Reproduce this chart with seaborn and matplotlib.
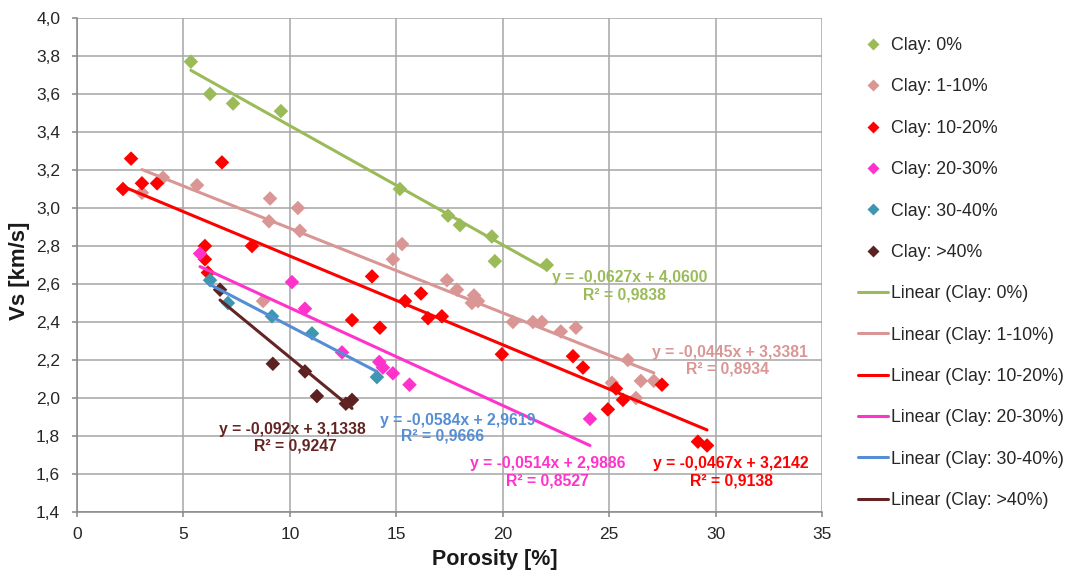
import numpy as np
import pandas as pd
import matplotlib
matplotlib.use("Agg")
import matplotlib.pyplot as plt
from matplotlib.ticker import FuncFormatter, MultipleLocator
from matplotlib.lines import Line2D
import seaborn as sns

# --- measurements: porosity [%] and shear-wave velocity Vs [km/s] per clay class ---
clay_0_por = [5.35, 6.25, 7.33, 9.58, 15.17, 17.43, 17.99, 19.49, 19.63, 22.07]
clay_0_vs = [3.77, 3.60, 3.55, 3.51, 3.10, 2.96, 2.91, 2.85, 2.72, 2.70]

clay_1_10_por = [3.05, 4.04, 5.64, 8.74, 9.07, 9.02, 10.38, 10.47, 14.84, 15.27, 17.38,
                 17.85, 18.65, 18.55, 18.84, 20.48, 21.42, 21.84, 22.73, 23.44, 25.13,
                 25.88, 26.26, 26.49, 27.10]
clay_1_10_vs = [3.08, 3.16, 3.12, 2.51, 3.05, 2.93, 3.00, 2.88, 2.73, 2.81, 2.62,
                2.57, 2.54, 2.50, 2.51, 2.40, 2.40, 2.40, 2.35, 2.37, 2.08,
                2.20, 2.00, 2.09, 2.09]

clay_10_20_por = [2.16, 2.54, 3.05, 3.76, 6.81, 6.01, 6.01, 6.15, 8.22, 13.86, 15.41, 12.92,
                  14.23, 16.16, 16.49, 17.14, 19.96, 23.30, 23.77, 25.32, 25.65, 24.94,
                  27.48, 29.17, 29.60]
clay_10_20_vs = [3.10, 3.26, 3.13, 3.13, 3.24, 2.80, 2.73, 2.66, 2.80, 2.64, 2.51, 2.41,
                 2.37, 2.55, 2.42, 2.43, 2.23, 2.22, 2.16, 2.05, 1.99, 1.94,
                 2.07, 1.77, 1.75]

clay_20_30_por = [5.78, 10.10, 10.71, 12.45, 14.20, 14.37, 14.84, 15.62, 24.10]
clay_20_30_vs = [2.76, 2.61, 2.47, 2.24, 2.19, 2.16, 2.13, 2.07, 1.89]

clay_30_40_por = [6.25, 7.09, 9.16, 11.04, 14.09]
clay_30_40_vs = [2.62, 2.50, 2.43, 2.34, 2.11]

clay_40_por = [6.72, 9.20, 10.71, 11.27, 12.63, 12.92]
clay_40_vs = [2.57, 2.18, 2.14, 2.01, 1.97, 1.99]

# linear trend parameters (slope, intercept) and their fit labels
classes = ["0%", "1-10%", "10-20%", "20-30%", "30-40%", ">40%"]
slopes = [-0.0627, -0.0445, -0.0467, -0.0514, -0.0584, -0.092]
intercepts = [4.0600, 3.3381, 3.2142, 2.9886, 2.9619, 3.1338]
eq_texts = ["y = -0,0627x + 4,0600", "y = -0,0445x + 3,3381", "y = -0,0467x + 3,2142",
            "y = -0,0514x + 2,9886", "y = -0,0584x + 2,9619", "y = -0,092x + 3,1338"]
r2_texts = ["R² = 0,9838", "R² = 0,8934", "R² = 0,9138",
            "R² = 0,8527", "R² = 0,9666", "R² = 0,9247"]

porosity = [clay_0_por, clay_1_10_por, clay_10_20_por, clay_20_30_por, clay_30_40_por, clay_40_por]
velocity = [clay_0_vs, clay_1_10_vs, clay_10_20_vs, clay_20_30_vs, clay_30_40_vs, clay_40_vs]

marker_colors = ["#9BBB59", "#D99694", "#FF0000", "#FF33CC", "#3D97AE", "#5C2222"]
line_colors = ["#9BBB59", "#D99694", "#FF0000", "#FF33CC", "#558ED5", "#632523"]
# centre of the equation line and of the R² line (data units)
eq_pos = [(25.98, 2.632), (30.68, 2.242), (30.72, 1.653), (22.13, 1.653), (17.90, 1.884), (10.10, 1.832)]
r2_pos = [(25.74, 2.542), (30.58, 2.153), (30.77, 1.563), (22.08, 1.563), (17.19, 1.800), (10.24, 1.747)]

sns.set_theme(style="white")
plt.rcParams["font.family"] = ["Liberation Sans", "DejaVu Sans"]

fig = plt.figure(figsize=(10.74, 5.76), dpi=100)
ax = fig.add_axes([77 / 1074, 1 - 512 / 576, 745 / 1074, 494 / 576])

frames = []
for cls, xs, ys in zip(classes, porosity, velocity):
    frames.append(pd.DataFrame({"Porosity": xs, "Vs": ys, "Clay": f"Clay: {cls}"}))
df = pd.concat(frames, ignore_index=True)

point_handles, line_handles = [], []
for i, cls in enumerate(classes):
    sub = df[df["Clay"] == f"Clay: {cls}"]
    sns.scatterplot(data=sub, x="Porosity", y="Vs", marker="D", s=55,
                    color=marker_colors[i], edgecolor="none", ax=ax, zorder=3, legend=False)
    xs = np.array([sub["Porosity"].min(), sub["Porosity"].max()])
    trend = pd.DataFrame({"Porosity": xs, "Vs": slopes[i] * xs + intercepts[i]})
    sns.lineplot(data=trend, x="Porosity", y="Vs", color=line_colors[i], lw=2.2,
                 ax=ax, zorder=4, legend=False)
    for txt, (tx, ty) in ((eq_texts[i], eq_pos[i]), (r2_texts[i], r2_pos[i])):
        ax.text(tx, ty, txt, color=line_colors[i], fontsize=11.3, fontweight="bold",
                ha="center", va="center", zorder=5)
    point_handles.append(Line2D([], [], marker="D", ls="none", markersize=6,
                                color=marker_colors[i], markeredgecolor="none",
                                label=f"Clay: {cls}"))
    line_handles.append(Line2D([], [], color=line_colors[i], lw=2.2,
                               label=f"Linear (Clay: {cls})"))

ax.set_xlim(0, 35)
ax.set_ylim(1.4, 4.0)
ax.xaxis.set_major_locator(MultipleLocator(5))
ax.yaxis.set_major_locator(MultipleLocator(0.2))
ax.yaxis.set_major_formatter(FuncFormatter(lambda v, p: f"{v:.1f}".replace(".", ",")))
ax.xaxis.set_major_formatter(FuncFormatter(lambda v, p: f"{v:.0f}"))
ax.grid(True, color="#A6A6A6", lw=1.1)
ax.set_axisbelow(True)
for side in ["top", "right"]:
    ax.spines[side].set_visible(False)
for side in ["left", "bottom"]:
    ax.spines[side].set_color("#868686")
    ax.spines[side].set_linewidth(1.1)
ax.tick_params(axis="both", which="major", labelsize=12.5, length=3.6, width=1.1,
               color="#868686", labelcolor="#262626", direction="out", left=True, bottom=True)
ax.tick_params(axis="y", pad=8.5)
ax.tick_params(axis="x", pad=7.0)
ax.set_xlabel("Porosity [%]", fontsize=15.5, fontweight="bold", color="#1A1A1A")
ax.set_ylabel("Vs [km/s]", fontsize=16, fontweight="bold", color="#1A1A1A")
ax.xaxis.set_label_coords((494.5 - 77) / 745, -(559 - 512) / 494)
ax.yaxis.set_label_coords((20 - 77) / 745, 1 - (270.5 - 18) / 494)
ax.xaxis.label.set_va("center")
ax.yaxis.label.set_va("center")

fig.legend(handles=point_handles + line_handles, loc="upper left",
           bbox_to_anchor=(851 / 1074, 1 - 30 / 576), frameon=False, fontsize=12.8,
           labelspacing=1.37, handlelength=1.7, handletextpad=0.15, borderaxespad=0)

fig.savefig("out.png", dpi=100)
